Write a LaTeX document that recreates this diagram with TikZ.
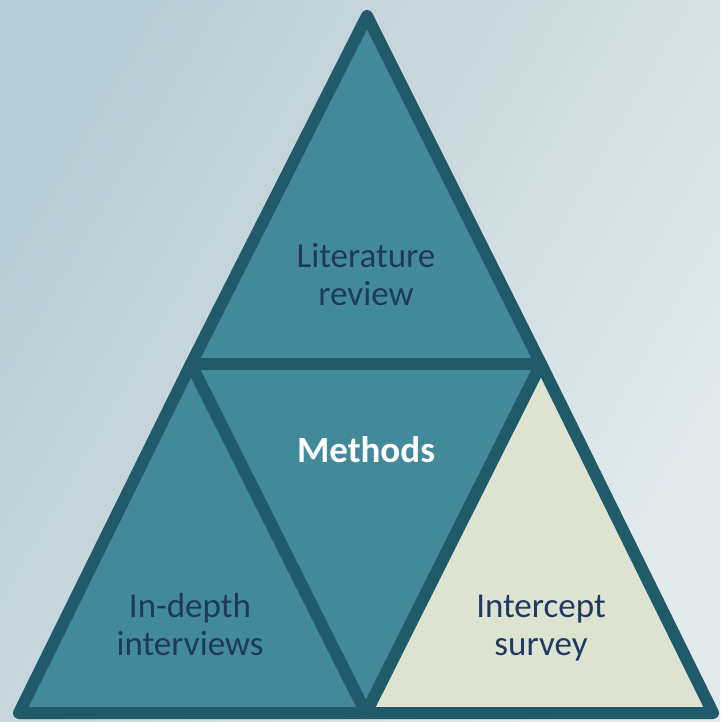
\documentclass[tikz,border=0pt]{standalone}
\usepackage{fontspec}
\setmainfont{Carlito}
\definecolor{bgA}{HTML}{B9CDD4}
\definecolor{bgB}{HTML}{E2EAEC}
\definecolor{tealfill}{HTML}{43899C}
\definecolor{tealline}{HTML}{215B6B}
\definecolor{creamfill}{HTML}{DEE3D1}
\definecolor{navytext}{HTML}{1E3A60}
\begin{document}
\begin{tikzpicture}[x=1pt,y=-1pt,
  piece/.style={draw=tealline,line width=12pt,line join=round},
  shadowpiece/.style={fill=black,fill opacity=0.15,draw=black,draw opacity=0.15,line width=12pt,line join=round},
  label/.style={font=\fontsize{35}{38}\selectfont,text=navytext,align=center,inner sep=0pt}]
\useasboundingbox (0,0) rectangle (720,722);
\shade[left color=bgA,right color=bgB,shading angle=60] (0,0) rectangle (720,722);
% corners
\coordinate (A) at (367,16);
\coordinate (L) at (191,364);
\coordinate (R) at (541,364);
\coordinate (BL) at (19,713);
\coordinate (BM) at (366,713);
\coordinate (BR) at (713,713);
% shadows
\begin{scope}[shift={(2,3)}]
\draw[shadowpiece] (A) -- (R) -- (L) -- cycle;
\draw[shadowpiece] (L) -- (BM) -- (BL) -- cycle;
\draw[shadowpiece] (L) -- (R) -- (BM) -- cycle;
\draw[shadowpiece] (R) -- (BR) -- (BM) -- cycle;
\end{scope}
% pieces
\draw[piece,fill=tealfill] (A) -- (R) -- (L) -- cycle;
\draw[piece,fill=tealfill] (L) -- (BM) -- (BL) -- cycle;
\draw[piece,fill=tealfill] (L) -- (R) -- (BM) -- cycle;
\draw[piece,fill=creamfill] (R) -- (BR) -- (BM) -- cycle;
% labels
\node[label,anchor=base] (lit) at (366,305) {Literature\\review};
\node[label,anchor=base,text=white,font=\fontsize{37}{38}\selectfont\bfseries] (meth) at (366,462) {Methods};
\node[label,anchor=base] (ind) at (190,655) {In-depth\\interviews};
\node[label,anchor=base] (int) at (541,655) {Intercept\\survey};
\end{tikzpicture}
\end{document}
